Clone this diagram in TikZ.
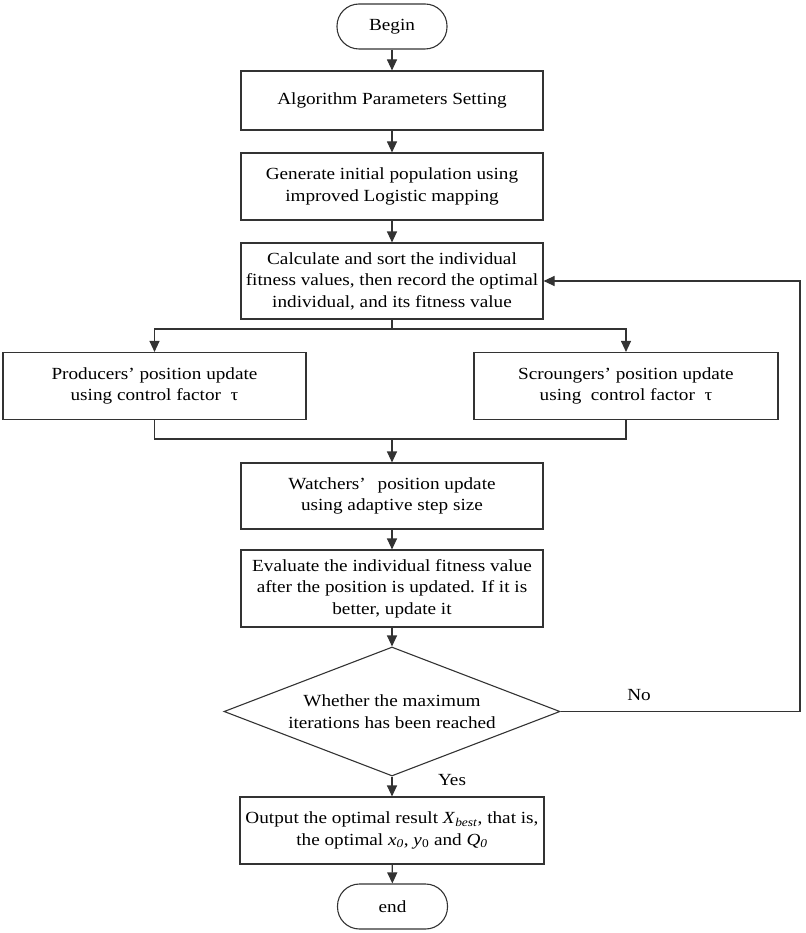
\documentclass[tikz,border=0pt]{standalone}
\usepackage{fontspec}
\setmainfont{Liberation Serif}[FakeStretch=1.13]
\usetikzlibrary{shapes.geometric,arrows.meta}
\definecolor{ln}{gray}{0.2}
\begin{document}
\begin{tikzpicture}[x=1pt,y=-1pt,
  every node/.style={font=\fontsize{17}{21.5}\selectfont, align=center, inner sep=0pt},
  box/.style={draw=ln, line width=1.1pt, minimum width=302pt},
  term/.style={draw=ln, line width=1.1pt, rounded corners=22pt, minimum width=110pt, minimum height=45pt},
  dec/.style={draw=ln, line width=1.1pt, shape=diamond, aspect=2.6, minimum width=336pt, minimum height=129pt},
  line/.style={draw=ln, line width=1.1pt},
  arr/.style={draw=ln, line width=1.1pt, -{Triangle[length=11pt,width=10pt]}},
  lbl/.style={font=\fontsize{17}{21.5}\selectfont}]
\useasboundingbox (0,0) rectangle (805,933);
\node[term] (begin) at (392,26.5) {Begin};
\node[box, minimum height=59pt] (b1) at (392,100.5) {Algorithm Parameters Setting};
\node[box, minimum height=67pt] (b2) at (392,186.5) {Generate initial population using\\improved Logistic mapping};
\node[box, minimum height=76pt] (b3) at (392,281) {Calculate and sort the individual\\fitness values, then record the optimal\\individual, and its fitness value};
\node[box, minimum width=303pt, minimum height=67pt] (prod) at (154.5,386) {Producers’ position update\\using control factor\ \ τ};
\node[box, minimum width=304pt, minimum height=67pt] (scro) at (626,386) {Scroungers’ position update\\using\ \ control factor\ \ τ};
\node[box, minimum height=66pt] (watch) at (392,496) {Watchers’\hspace{0.7em}position update\\using adaptive step size};
\node[box, minimum height=77pt] (eval) at (392,588.5) {Evaluate the individual fitness value\\after the position is updated. If it is\\better, update it};
\node[dec] (dia) at (392,711.5) {Whether the maximum\\iterations has been reached};
\node[box, minimum width=304pt, minimum height=67pt] (out) at (392,830.5) {Output the optimal result \textit{X}\textsubscript{\textit{best}}, that is,\\the optimal \textit{x}\textsubscript{\textit{0}}, \textit{y}\textsubscript{0} and \textit{Q}\textsubscript{\textit{0}}};
\node[term] (end) at (392.5,906.5) {end};
\coordinate (split) at (392,329);
\coordinate (merge) at (392,439);
\coordinate (R) at (800,711.5);
\draw[arr] (begin) -- (b1);
\draw[arr] (b1) -- (b2);
\draw[arr] (b2) -- (b3);
\draw[line] (b3.south) -- (split);
\draw[arr] (split) -| (prod.north);
\draw[arr] (split) -| (scro.north);
\draw[line] (prod.south) |- (merge) -| (scro.south);
\draw[arr] (merge) -- (watch.north);
\draw[arr] (watch) -- (eval);
\draw[arr] (eval) -- (dia.north);
\draw[line] (dia.east) -- (R);
\draw[arr] (R) |- (b3.east);
\node[lbl] (no) at (639,695) {No};
\draw[arr] (dia.south) -- (out.north);
\node[lbl] (yes) at (452,780) {Yes};
\draw[arr] (out) -- (end);
\end{tikzpicture}
\end{document}
